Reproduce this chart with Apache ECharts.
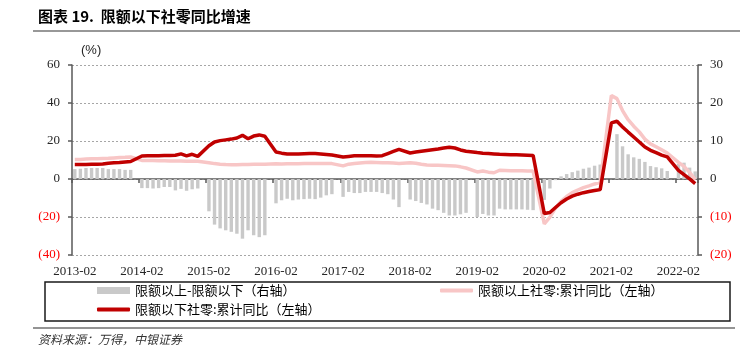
<!DOCTYPE html>
<html><head><meta charset="utf-8">
<script src="https://cdn.jsdelivr.net/npm/echarts@6/dist/echarts.min.js"></script>
<style>html,body{margin:0;padding:0;background:#fff}#c{width:743px;height:358px}</style>
</head><body><div id="c"></div>
<script>
// Monthly categories 2013-02 .. 2022-05 (January has no cumulative data -> null)
const startYear = 2013, startMonth = 2, endYear = 2022, endMonth = 5;
const months = [];
for (let y = startYear, m = startMonth; y < endYear || (y === endYear && m <= endMonth);) {
  months.push(y + '-' + String(m).padStart(2, '0'));
  m++; if (m > 12) { m = 1; y++; }
}

// 限额以上-限额以下（右轴）
const diffAboveBelow = [
  2.6, 2.7, 2.9, 2.9, 2.9, 2.9, 2.6, 2.6, 2.6, 2.4, 2.4,
  null, -2.4, -2.4, -2.5, -2.4, -2.1, -2.1, -3.0, -2.6, -3.1, -2.7, -2.5,
  null, -8.5, -12.0, -13.0, -13.5, -13.9, -14.4, -15.7, -13.5, -14.8, -15.3, -14.8,
  null, -6.4, -5.6, -5.2, -5.6, -5.4, -5.3, -5.2, -5.3, -4.9, -4.3, -4.0,
  null, -4.7, -3.4, -3.7, -3.7, -3.4, -3.4, -3.4, -3.7, -4.0, -5.4, -7.4,
  null, -5.4, -5.8, -6.3, -6.7, -7.8, -8.2, -8.9, -9.6, -9.6, -9.3, -8.9,
  null, -10.0, -9.2, -9.6, -9.6, -7.8, -8.0, -8.0, -8.0, -8.0, -8.1, -8.2,
  null, -5.5, -2.5, -0.3, 0.7, 1.3, 1.8, 2.2, 2.7, 3.0, 3.5, 3.8,
  null, null, 11.8, 8.6, 6.5, 5.7, 5.3, 4.5, 3.4, 3.1, 2.8, 2.1,
  null, 4.0, 4.3, 3.0, 2.0
];

// 限额以上社零:累计同比（左轴）
const aboveYoY = [
  10.2, 10.3, 10.5, 10.6, 10.7, 10.8, 10.9, 11.1, 11.3, 11.4, 11.6,
  null, 9.8, 9.7, 9.7, 9.6, 9.6, 9.5, 9.5, 9.5, 9.4, 9.4, 9.3,
  null, 8.6, 8.1, 7.8, 7.6, 7.5, 7.5, 7.6, 7.6, 7.7, 7.8, 7.8,
  null, 8.0, 7.9, 8.0, 8.0, 8.0, 8.1, 8.1, 8.1, 8.1, 8.1, 8.1,
  null, 6.9, 7.8, 8.1, 8.4, 8.7, 8.8, 8.7, 8.6, 8.5, 8.4, 8.2,
  null, 8.6, 8.3, 7.8, 7.4, 7.3, 7.2, 7.1, 7.0, 6.9, 6.4, 5.8,
  null, 3.7, 4.2, 3.6, 3.3, 4.6, 4.5, 4.4, 4.3, 4.3, 4.2, 4.2,
  null, -23.6, -20.1, -15.3, -11.8, -9.2, -7.2, -5.8, -4.5, -3.6, -2.6, -1.8,
  null, 44.0, 42.3, 36.0, 31.2, 27.8, 24.8, 21.0, 18.5, 17.0, 15.4, 13.7,
  null, 8.8, 6.6, 3.5, -0.4
];

// 限额以下社零:累计同比（左轴）
const belowYoY = [
  7.6, 7.6, 7.6, 7.7, 7.8, 7.9, 8.3, 8.5, 8.7, 9.0, 9.2,
  null, 12.1, 12.2, 12.3, 12.3, 12.4, 12.4, 12.5, 13.2, 12.2, 13.0, 11.9,
  null, 17.5, 19.5, 20.2, 20.6, 21.0, 21.6, 23.0, 21.2, 22.6, 23.2, 22.5,
  null, 14.2, 13.6, 13.2, 13.1, 13.2, 13.3, 13.4, 13.4, 13.2, 12.9, 12.6,
  null, 11.6, 11.9, 12.2, 12.3, 12.3, 12.2, 12.1, 12.3, 13.4, 14.5, 15.6,
  null, 13.7, 14.2, 14.6, 15.0, 15.4, 15.8, 16.3, 16.7, 16.3, 15.3, 14.6,
  null, 13.9, 13.6, 13.4, 13.2, 13.0, 12.9, 12.8, 12.7, 12.6, 12.5, 12.4,
  null, -18.2, -17.6, -15.0, -12.5, -10.5, -9.0, -8.0, -7.2, -6.6, -6.1, -5.6,
  null, 29.5, 30.4, 27.4, 24.7, 22.1, 19.5, 16.8, 15.1, 13.9, 12.6, 11.6,
  null, 4.6, 2.3, 0.1, -2.4
];

const seriesNames = ['限额以上-限额以下（右轴）', '限额以上社零:累计同比（左轴）', '限额以下社零:累计同比（左轴）'];
const titleText = '图表 19.  限额以下社零同比增速';
const unitText = '(%)';
const sourceText = '资料来源：万得，中银证券';

const SERIF = 'Liberation Serif, Times New Roman, serif';
const CJK = 'Noto Sans CJK SC, sans-serif';
const numFmt = v => v < 0 ? '{neg|(' + (-v) + ')}' : '{pos|' + v + '}';
const rich = {
  neg: { color: '#ff0000', fontFamily: SERIF, fontSize: 13 },
  pos: { color: '#262626', fontFamily: SERIF, fontSize: 13 }
};

const chart = echarts.init(document.getElementById('c'), null, { renderer: 'canvas' });
chart.setOption({
  animation: false,
  backgroundColor: '#fff',
  grid: { left: 72, right: 45, top: 65, bottom: 103, containLabel: false },
  xAxis: [{
    type: 'category', data: months, position: 'bottom', boundaryGap: true,
    axisLine: { show: false, onZero: false }, axisTick: { show: false },
    axisLabel: { interval: 11, margin: 10, color: '#262626', fontFamily: SERIF, fontSize: 13 },
    splitLine: { show: false }
  }, {
    type: 'category', data: months, position: 'bottom', boundaryGap: true,
    axisLine: { show: true, onZero: true, onZeroAxisIndex: 0, lineStyle: { color: '#595959', width: 1.5 } },
    axisTick: { show: true, interval: 11, length: 4, lineStyle: { color: '#595959', width: 1.5 } },
    axisLabel: { show: false }, splitLine: { show: false }
  }],
  yAxis: [{
    type: 'value', position: 'left', min: -40, max: 60, interval: 20,
    axisLine: { show: true, lineStyle: { color: '#595959', width: 1.5 } },
    axisTick: { show: true, length: 4, lineStyle: { color: '#595959', width: 1.5 } },
    axisLabel: { margin: 12, formatter: numFmt, rich: rich },
    splitLine: { show: true, lineStyle: { color: '#a6a6a6', type: [2, 2], width: 1 } }
  }, {
    type: 'value', position: 'right', min: -20, max: 30, interval: 10,
    axisLine: { show: true, lineStyle: { color: '#595959', width: 1.5 } },
    axisTick: { show: true, length: 4, lineStyle: { color: '#595959', width: 1.5 } },
    axisLabel: { margin: 12, formatter: numFmt, rich: rich },
    splitLine: { show: false }
  }],
  legend: [{
    data: [seriesNames[0]], left: 97, top: 284, padding: 0, icon: 'rect',
    itemWidth: 33, itemHeight: 7,
    textStyle: { fontFamily: CJK, fontSize: 13, color: '#000' }
  }, {
    data: [seriesNames[1]], left: 440, top: 284, padding: 0, icon: 'roundRect',
    itemWidth: 33, itemHeight: 4,
    textStyle: { fontFamily: CJK, fontSize: 13, color: '#000' }
  }, {
    data: [seriesNames[2]], left: 97, top: 303, padding: 0, icon: 'roundRect',
    itemWidth: 33, itemHeight: 4,
    textStyle: { fontFamily: CJK, fontSize: 13, color: '#000' }
  }],
  series: [{
    name: seriesNames[0], type: 'bar', xAxisIndex: 0, yAxisIndex: 1,
    data: diffAboveBelow, barWidth: 3.4, itemStyle: { color: '#c9c9c9' }, z: 2
  }, {
    name: seriesNames[1], type: 'line', xAxisIndex: 0, yAxisIndex: 0,
    data: aboveYoY, connectNulls: true, showSymbol: false, symbol: 'none',
    color: '#f8c6c6', lineStyle: { color: '#f8c6c6', width: 3.5 }, itemStyle: { color: '#f8c6c6' }, z: 3
  }, {
    name: seriesNames[2], type: 'line', xAxisIndex: 0, yAxisIndex: 0,
    data: belowYoY, connectNulls: true, showSymbol: false, symbol: 'none',
    color: '#c00000', lineStyle: { color: '#c00000', width: 3.5 }, itemStyle: { color: '#c00000' }, z: 4
  }],
  graphic: [
    { type: 'text', left: 38, top: 9, style: { text: titleText, fontFamily: CJK, fontSize: 15, fontWeight: 'bold', fill: '#000' } },
    { type: 'line', shape: { x1: 33, y1: 31, x2: 740, y2: 31 }, style: { stroke: '#333', lineWidth: 1.2 } },
    { type: 'text', left: 81, top: 44, style: { text: unitText, fontFamily: 'Liberation Sans, Arial, sans-serif', fontSize: 13, fill: '#262626' } },
    { type: 'rect', shape: { x: 45, y: 282, width: 685, height: 39 }, style: { fill: 'none', stroke: '#1a1a1a', lineWidth: 1.5 } },
    { type: 'line', shape: { x1: 33, y1: 328, x2: 735, y2: 328 }, style: { stroke: '#707070', lineWidth: 1.5 } },
    { type: 'text', left: 38, top: 333, style: { text: sourceText, fontFamily: CJK, fontSize: 12, fontStyle: 'italic', fill: '#333' } }
  ]
});
</script>
</body></html>
